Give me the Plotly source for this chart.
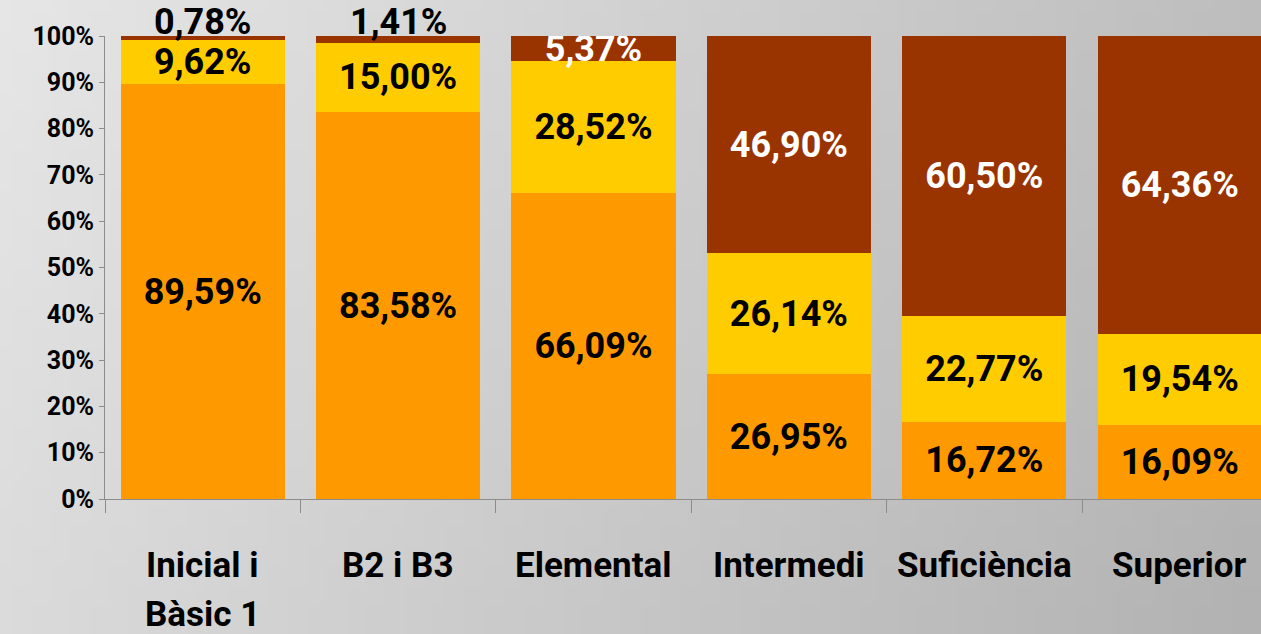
import base64, struct, zlib
import plotly.graph_objects as go

categories = ["Inicial i\nBàsic 1", "B2 i B3", "Elemental", "Intermedi", "Suficiència", "Superior"]
bottom_vals = [89.59, 83.58, 66.09, 26.95, 16.72, 16.09]
middle_vals = [9.62, 15.00, 28.52, 26.14, 22.77, 19.54]
top_vals = [0.78, 1.41, 5.37, 46.90, 60.50, 64.36]
y_ticks = [0, 10, 20, 30, 40, 50, 60, 70, 80, 90, 100]

W, H = 1261, 634
ML, MT, MB, MR = 105, 36, 135, 0
FONT = "Roboto, Open Sans, sans-serif"


def gradient_png(w, h):
    raw = b""
    for j in range(h):
        row = b"\x00"
        for i in range(w):
            t = 0.78 * i / (w - 1) + 0.22 * j / (h - 1)
            v = int(round(230 - 52 * t))
            row += bytes([v, v, v + 1])
        raw += row

    def chunk(tag, data):
        c = struct.pack(">I", len(data)) + tag + data
        return c + struct.pack(">I", zlib.crc32(tag + data) & 0xffffffff)

    png = b"\x89PNG\r\n\x1a\n"
    png += chunk(b"IHDR", struct.pack(">IIBBBBB", w, h, 8, 2, 0, 0, 0))
    png += chunk(b"IDAT", zlib.compress(raw, 9))
    png += chunk(b"IEND", b"")
    return "data:image/png;base64," + base64.b64encode(png).decode()


def fmt(v):
    return f"{v:.2f}".replace(".", ",") + "%"


xs = [c.replace("\n", " ") for c in categories]
label_font = dict(family=FONT, size=36, color="black", weight="bold")

fig = go.Figure()
fig.add_trace(go.Bar(
    x=xs, y=bottom_vals, marker_color="#FF9900", marker_line_width=0,
    texttemplate="%{y:.2f}%", textposition="inside", insidetextanchor="middle",
    constraintext="none", textangle=0, textfont=label_font,
))
fig.add_trace(go.Bar(
    x=xs, y=middle_vals, marker_color="#FFCC00", marker_line_width=0,
    texttemplate="%{y:.2f}%", textposition="inside", insidetextanchor="middle",
    constraintext="none", textangle=0, textfont=label_font,
))
small = [v < 3 for v in top_vals]
fig.add_trace(go.Bar(
    x=xs, y=top_vals, marker_color="#993300", marker_line_width=0,
    texttemplate="%{y:.2f}%", textposition=["none" if s else "inside" for s in small],
    insidetextanchor="middle", constraintext="none", textangle=0,
    textfont=dict(family=FONT, size=36, color="white", weight="bold"),
))

plot_w = W - ML - MR
plot_h = H - MT - MB
span = plot_w / 195.4
annotations = []
for i, lab in enumerate(categories):
    for k, line in enumerate(lab.split("\n")):
        annotations.append(dict(
            x=xs[i], y=0, xref="x", yref="paper", text=line, showarrow=False,
            yanchor="middle", yshift=-66 - 49 * k,
            font=dict(family=FONT, size=35, color="black", weight="bold"),
        ))
for i, s in enumerate(small):
    if s:
        annotations.append(dict(
            x=xs[i], y=bottom_vals[i] + middle_vals[i] + top_vals[i], xref="x", yref="y",
            text=fmt(top_vals[i]), showarrow=False, yanchor="middle", yshift=14,
            font=label_font,
        ))

fig.update_layout(
    width=W, height=H,
    margin=dict(l=ML, r=MR, t=MT, b=MB, pad=0),
    barmode="stack", bargap=0.16,
    showlegend=False,
    separators=",.",
    paper_bgcolor="#d0d0d0", plot_bgcolor="rgba(0,0,0,0)",
    annotations=annotations,
    images=[dict(
        source=gradient_png(64, 32), xref="paper", yref="paper",
        x=-ML / plot_w, y=1 + MT / plot_h, sizex=W / plot_w, sizey=H / plot_h,
        xanchor="left", yanchor="top", sizing="stretch", layer="below",
    )],
    xaxis=dict(
        type="category", range=[-0.5, -0.5 + span], showticklabels=False,
        tickson="boundaries",
        ticks="outside", ticklen=13, tickcolor="#8c8c8c", tickwidth=1,
        showline=True, linecolor="#8c8c8c", linewidth=1,
        showgrid=False, zeroline=False, fixedrange=True,
    ),
    yaxis=dict(
        range=[0, 100], tickmode="array", tickvals=y_ticks,
        ticktext=[f"{v}%" for v in y_ticks],
        ticks="outside", ticklen=5, tickcolor="#8c8c8c",
        showline=True, linecolor="#8c8c8c", linewidth=1,
        showgrid=False, zeroline=False,
        tickfont=dict(family=FONT, size=25, color="black", weight="bold"),
    ),
)

fig.write_html("out.html", config={"displayModeBar": False})
with open("out.html", encoding="utf-8") as f:
    html = f.read()
html = html.replace("<head>", "<head><style>html,body{margin:0;padding:0;overflow:hidden;}</style>", 1)
with open("out.html", "w", encoding="utf-8") as f:
    f.write(html)
